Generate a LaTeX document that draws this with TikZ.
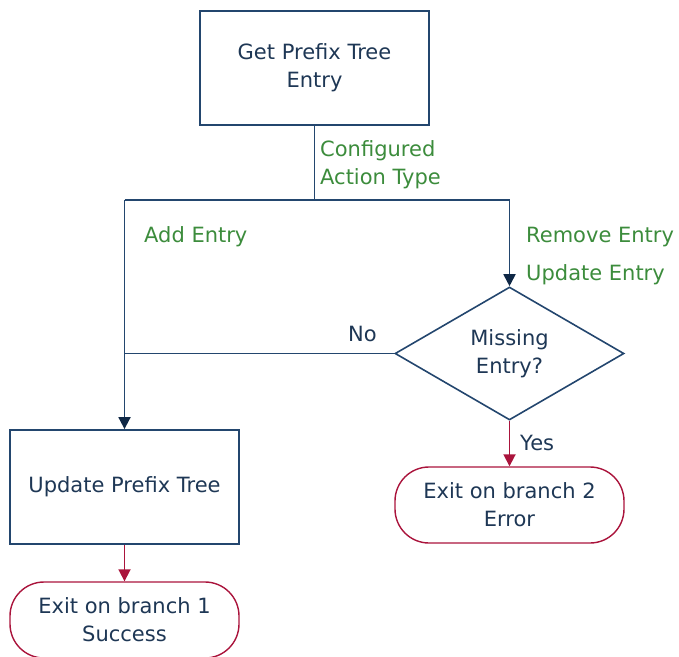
\documentclass[tikz,border=0pt]{standalone}
\usepackage{fontspec}
\setmainfont{DejaVu Sans}
\usetikzlibrary{shapes.geometric,arrows.meta}
\definecolor{navy}{RGB}{35,70,110}
\definecolor{tipc}{RGB}{15,40,70}
\definecolor{txt}{RGB}{30,55,85}
\definecolor{lbl}{RGB}{60,140,60}
\definecolor{exitred}{RGB}{170,20,60}
\tikzset{
  base/.style={font=\fontsize{21}{28}\selectfont, text=txt, align=center, inner sep=0pt},
  procbox/.style={base, draw=navy, line width=1.8pt, rectangle, minimum width=229pt, minimum height=114pt},
  decision/.style={base, draw=navy, line width=1.6pt, diamond, aspect=1.72, minimum width=229pt, minimum height=133pt},
  exitbox/.style={base, draw=exitred, line width=1.4pt, rectangle, rounded corners=34pt, minimum width=229pt, minimum height=76pt},
  flow/.style={draw=navy, line width=1.8pt},
  flowarr/.style={flow, -{Triangle[length=12pt,width=12pt,color=tipc]}},
  redarr/.style={draw=exitred, line width=1.8pt, -{Triangle[length=12pt,width=12pt]}},
  glabel/.style={font=\fontsize{21}{28}\selectfont, text=lbl, inner sep=0pt, align=left},
  blabel/.style={font=\fontsize{21}{28}\selectfont, text=txt, inner sep=0pt}
}
\begin{document}
\begin{tikzpicture}[x=1pt,y=-1pt]
\useasboundingbox (0,0) rectangle (679,656);
\node[procbox] (get) at (314.5,68) {Get Prefix Tree\\Entry};
\node[procbox] (upd) at (124.5,487) {Update Prefix Tree};
\node[decision] (dia) at (509.5,353.5) {Missing\\Entry?};
\node[exitbox] (exit2) at (509.5,505) {Exit on branch 2\\Error};
\node[exitbox] (exit1) at (124.5,620) {Exit on branch 1\\Success};
\coordinate (split) at (314.5,200);
\coordinate (L) at (124.5,200);
\coordinate (R) at (509.5,200);
\coordinate (join) at (124.5,353.5);
\draw[flow] (get.south) -- (split);
\draw[flow] (L) -- (R);
\draw[flowarr] (L) -- (upd.north);
\draw[flowarr] (R) -- (dia.north);
\draw[flow] (dia.west) -- (join);
\draw[redarr] (upd.south) -- (exit1.north);
\draw[redarr] (dia.south) -- (exit2.north);
\node[glabel, anchor=base west] (lab1) at (320,156) {Configured};
\node[glabel, anchor=base west] (lab2) at (320,184) {Action Type};
\node[glabel, anchor=base west] (lab3) at (144,242) {Add Entry};
\node[glabel, anchor=base west] (lab4) at (526,242) {Remove Entry};
\node[glabel, anchor=base west] (lab5) at (526,280) {Update Entry};
\node[blabel, anchor=base west] (no) at (348,341) {No};
\node[blabel, anchor=base west] (yes) at (520,450) {Yes};
\end{tikzpicture}
\end{document}
